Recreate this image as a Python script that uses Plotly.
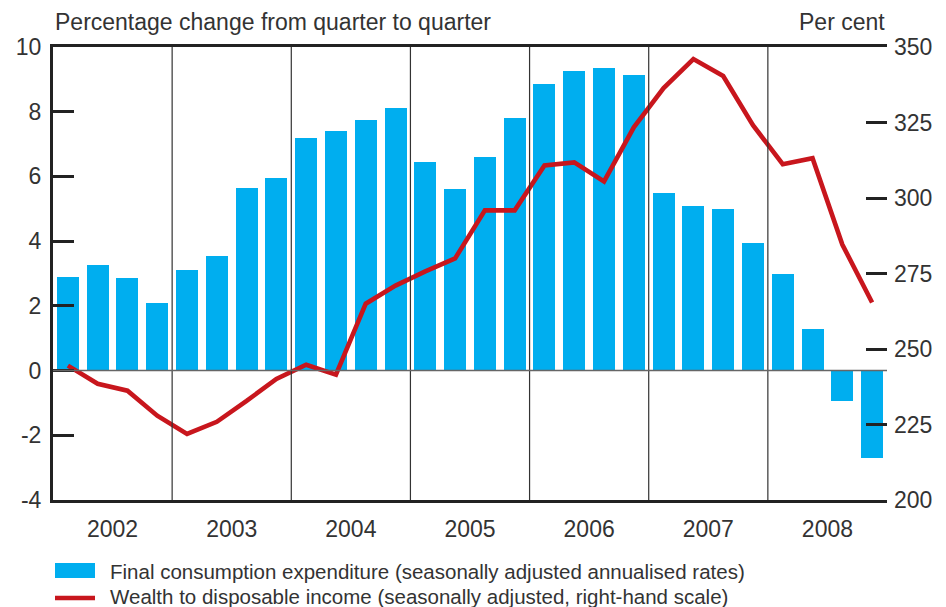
import plotly.graph_objects as go

years = ["2002", "2003", "2004", "2005", "2006", "2007", "2008"]
quarters = [f"{y} Q{q}" for y in years for q in range(1, 5)]

# Final consumption expenditure, % change (annualised)
consumption = [2.9, 3.25, 2.85, 2.1,
               3.1, 3.55, 5.65, 5.95,
               7.2, 7.4, 7.75, 8.1,
               6.45, 5.6, 6.6, 7.8,
               8.85, 9.25, 9.35, 9.15,
               5.5, 5.1, 5.0, 3.95,
               3.0, 1.27, -0.95, -2.7]

# Wealth to disposable income, per cent (right-hand scale)
wealth = [244.5, 238.5, 236.2, 227.9,
          221.9, 225.9, 232.8, 240.1,
          244.8, 241.5, 265.0, 271.0,
          275.7, 280.0, 295.9, 295.9,
          310.8, 311.8, 305.5, 323.4,
          336.4, 346.0, 340.4, 324.1,
          311.2, 313.2, 284.6, 265.4]

left_ticks = [-4, -2, 0, 2, 4, 6, 8, 10]
left_labels = [str(v) for v in left_ticks]  # plain hyphen like the original
right_ticks = [200, 225, 250, 275, 300, 325, 350]

bar_name = "Final consumption expenditure (seasonally adjusted annualised rates)"
line_name = "Wealth to disposable income (seasonally adjusted, right-hand scale)"

xpos = list(range(len(quarters)))
year_centres = [i * 4 + 1.5 for i in range(len(years))]

font = "Liberation Sans, Arial, sans-serif"
txt = "#333333"
blue = "#00AEEF"
red = "#C8161D"

fig = go.Figure()
fig.add_trace(go.Bar(
    x=xpos, y=consumption, width=0.74,
    marker=dict(color=blue, line=dict(width=0)),
    name=bar_name, hovertext=quarters,
))
fig.add_trace(go.Scatter(
    x=xpos, y=wealth, yaxis="y2", mode="lines",
    line=dict(color=red, width=4.6),
    name=line_name, hovertext=quarters,
))

# year separators and zero line
for i in range(1, len(years)):
    fig.add_shape(type="line", xref="x", yref="paper", x0=i * 4 - 0.5, x1=i * 4 - 0.5,
                  y0=0, y1=1, line=dict(color="#333333", width=1.2), layer="above")
fig.add_shape(type="line", xref="paper", yref="y", x0=0, x1=1, y0=0, y1=0,
              line=dict(color="#666666", width=1.5), layer="above")

# hand-drawn legend below the chart
fig.add_shape(type="rect", xref="paper", yref="paper",
              x0=2 / 834, x1=42 / 834, y0=-78 / 453, y1=-63 / 453,
              fillcolor=blue, line=dict(width=0))
fig.add_shape(type="line", xref="paper", yref="paper",
              x0=2 / 834, x1=42 / 834, y0=-98 / 453, y1=-98 / 453,
              line=dict(color=red, width=4.6))

# the page body has an 8px margin, so the plot margins are shifted to compensate
fig.update_layout(
    width=946, height=607,
    margin=dict(l=45, r=67, t=39, b=115, autoexpand=False),
    paper_bgcolor="white", plot_bgcolor="white",
    font=dict(family=font, size=23, color=txt),
    bargap=0,
    showlegend=False,
    xaxis=dict(range=[-0.5, len(quarters) - 0.5], tickvals=year_centres, ticktext=years,
               ticks="", showgrid=False, zeroline=False, showline=True,
               linecolor="#222222", linewidth=3, mirror=True, ticklabelstandoff=6,
               automargin=False),
    yaxis=dict(range=[-4, 10], tickvals=left_ticks, ticktext=left_labels,
               ticks="inside", ticklen=21, tickwidth=2.5, tickcolor="#222222",
               showgrid=False, zeroline=False, showline=True, linecolor="#222222",
               linewidth=3, ticklabelstandoff=4, automargin=False),
    yaxis2=dict(range=[200, 350], tickvals=right_ticks, overlaying="y", side="right",
                ticks="inside", ticklen=21, tickwidth=2.5, tickcolor="#222222",
                showgrid=False, zeroline=False, showline=False, ticklabelstandoff=6,
                automargin=False),
    annotations=[
        dict(text="Percentage change from quarter to quarter", xref="paper", yref="paper",
             x=0, y=1, yshift=10, xanchor="left", yanchor="bottom", showarrow=False,
             font=dict(size=23, color=txt)),
        dict(text="Per cent", xref="paper", yref="paper", x=1, y=1, yshift=10,
             xanchor="right", yanchor="bottom", showarrow=False,
             font=dict(size=23, color=txt)),
        dict(text=bar_name, xref="paper", yref="paper", x=55 / 834, y=-71 / 453,
             xanchor="left", yanchor="middle", showarrow=False,
             font=dict(size=20.5, color=txt)),
        dict(text=line_name, xref="paper", yref="paper", x=55 / 834, y=-96 / 453,
             xanchor="left", yanchor="middle", showarrow=False,
             font=dict(size=20.5, color=txt)),
    ],
)

fig.write_html("out.html")
